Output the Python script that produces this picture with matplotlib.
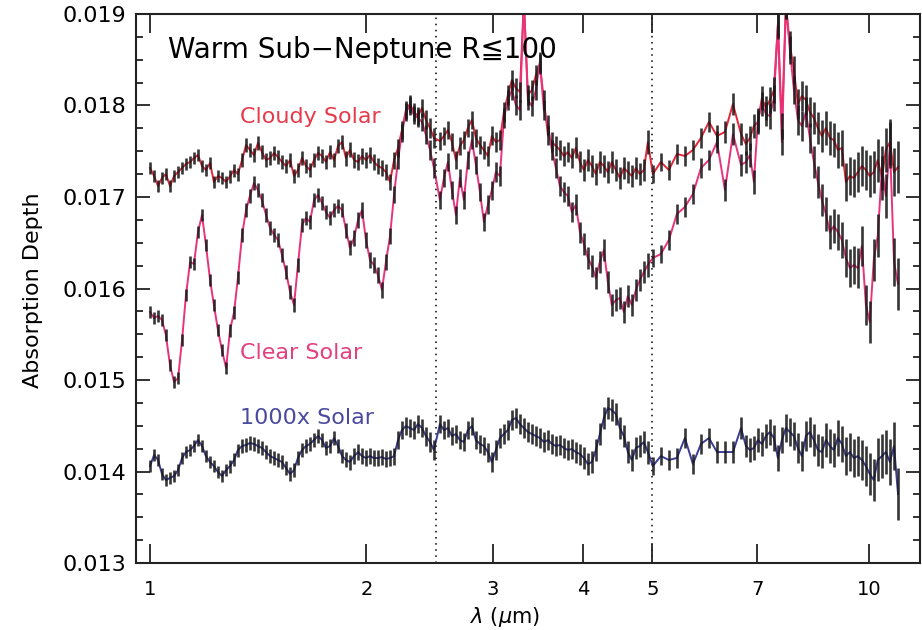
# Warm sub-Neptune transmission spectra, R<=100, three atmosphere cases
import numpy as np
import matplotlib.pyplot as plt
from matplotlib.ticker import (FixedLocator, FixedFormatter, MultipleLocator,
                               FormatStrFormatter, NullLocator)

plt.rcParams['font.family'] = ['DejaVu Sans', 'Noto Sans CJK JP']

# ------------------------------------------------ wavelength grid (micron)
wave_a = [1.000, 1.013, 1.026, 1.039, 1.052, 1.066, 1.080, 1.094, 1.108, 1.122,
          1.137, 1.151, 1.166, 1.181, 1.196, 1.212, 1.227, 1.243, 1.259, 1.276,
          1.292, 1.309, 1.325, 1.343, 1.360, 1.377, 1.395, 1.413, 1.431, 1.450,
          1.469, 1.488, 1.507, 1.526, 1.546, 1.566, 1.586, 1.606, 1.627, 1.648,
          1.669, 1.691, 1.713, 1.735, 1.757, 1.780, 1.803, 1.826, 1.850, 1.873,
          1.897, 1.922, 1.947, 1.972, 1.997, 2.023, 2.049, 2.075, 2.102, 2.129,
          2.157, 2.185, 2.213, 2.241, 2.270, 2.299, 2.329, 2.359, 2.390, 2.420,
          2.452, 2.483]
wave_b = [2.531, 2.564, 2.597, 2.630, 2.664, 2.698, 2.733, 2.768, 2.804, 2.840,
          2.877, 2.914, 2.951, 2.989, 3.028, 3.067, 3.107, 3.147, 3.187, 3.228,
          3.270, 3.312, 3.355, 3.398, 3.442, 3.486, 3.531, 3.577, 3.623, 3.670,
          3.717, 3.765, 3.813, 3.862, 3.912, 3.963, 4.014, 4.066, 4.118, 4.171,
          4.225, 4.279, 4.334, 4.390, 4.447, 4.504, 4.562, 4.621, 4.681, 4.741,
          4.802, 4.864, 4.927]
wave_c = [5.006, 5.136, 5.270, 5.407, 5.548, 5.692, 5.840, 5.992, 6.148, 6.307,
          6.471, 6.640]
wave_d = [6.745, 6.832, 6.920, 7.009, 7.099, 7.191, 7.284, 7.378, 7.473, 7.569,
          7.667, 7.766, 7.866, 7.967, 8.070, 8.174, 8.279, 8.386, 8.494, 8.604,
          8.715, 8.827, 8.941, 9.056, 9.173, 9.291, 9.411, 9.532, 9.655, 9.780,
          9.906, 10.03, 10.16, 10.29, 10.43, 10.56, 10.70, 10.84, 10.98]

# ------------------------------------------------ absorption depth (ppm)
cloudy_ppm = [
    17317, 17229, 17120, 17208, 17251, 17120, 17229, 17273, 17317, 17361,
    17383, 17426, 17459, 17339, 17295, 17372, 17164, 17229, 17208, 17164,
    17229, 17295, 17251, 17404, 17568, 17514, 17459, 17590, 17492, 17404,
    17426, 17481, 17437, 17383, 17339, 17404, 17229, 17295, 17426, 17339,
    17295, 17404, 17481, 17448, 17383, 17492, 17404, 17557, 17601, 17426,
    17514, 17404, 17383, 17448, 17404, 17459, 17383, 17339, 17317, 17273,
    17164, 17404, 17536, 17732, 17951, 18016, 17929, 17885, 17973, 17842,
    17754, 17645,
    17612, 17667, 17732, 17601, 17404, 17557, 17623, 17754, 17842, 17645,
    17568, 17514, 17448, 17667, 17601, 17623, 17929, 18115, 18279, 18191,
    18148, 19150, 18115, 18169, 18333, 18453, 18060, 17678, 17601, 17557,
    17514, 17448, 17492, 17426, 17536, 17383, 17295, 17404, 17339, 17251,
    17383, 17339, 17273, 17383, 17295, 17208, 17317, 17273, 17229, 17317,
    17251, 17295, 17601,
    17251, 17383, 17295, 17470, 17448, 17514, 17645, 17820, 17667, 17711,
    18016, 17689,
    17579, 17645, 17776, 17820, 18082, 17973, 18060, 18169, 18891, 17776,
    19100, 18661, 18388, 18016, 18104, 18060, 17929, 17863, 17754, 17667,
    17754, 17645, 17623, 17514, 17536, 17164, 17229, 17208, 17273, 17339,
    17295, 17229, 17273, 17404, 17208, 17514, 17601, 17273, 17328]

clear_ppm = [
    15743, 15678, 15700, 15656, 15492, 15164, 14978, 15022, 15437, 15929,
    16290, 16268, 16617, 16803, 16477, 16093, 15820, 15546, 15328, 15131,
    15546, 15743, 16115, 16585, 16858, 17011, 17153, 17076, 16967, 16803,
    16661, 16585, 16530, 16366, 16180, 15962, 15820, 16257, 16694, 16771,
    16727, 16967, 17022, 16934, 16836, 16771, 16858, 16902, 16858, 16639,
    16443, 16552, 16749, 16858, 16530, 16311, 16257, 16148, 15984, 16290,
    16574, 17022, 17404, 17700, 17929, 17994, 17896, 17863, 17820, 17678,
    17514, 17317,
    16967, 17208, 17383, 17076, 16803, 17208, 16967, 17404, 17623, 17350,
    17055, 16727, 16913, 17076, 17273, 17229, 17863, 18060, 18169, 18005,
    17951, 19150, 18060, 17994, 18169, 18475, 17951, 17787, 17514, 17317,
    17120, 17055, 17011, 16836, 16913, 16617, 16486, 16333, 16246, 16115,
    16290, 16421, 16071, 15820, 15874, 15896, 15743, 15918, 15820, 15984,
    16093, 16180, 16257,
    16333, 16377, 16530, 16814, 16891, 17033, 17317, 17404, 17601, 17076,
    17689, 17350,
    17383, 17459, 17164, 17842, 18016, 17907, 17885, 18082, 18869, 17601,
    19100, 18607, 18169, 17842, 17776, 17929, 17645, 17383, 17164, 16967,
    16814, 16617, 16683, 16617, 16530, 16333, 16224, 16257, 16224, 16464,
    15820, 15634, 16311, 16574, 17317, 17011, 17568, 16290, 16049]

rich_ppm = [
    14060, 14180, 14126, 13973, 13907, 13929, 13951, 14016, 14148, 14213,
    14235, 14279, 14344, 14279, 14169, 14104, 14060, 13995, 13951, 14016,
    14060, 14126, 14235, 14279, 14290, 14312, 14301, 14279, 14257, 14213,
    14169, 14148, 14126, 14104, 14038, 13973, 14016, 14148, 14235, 14279,
    14301, 14344, 14388, 14344, 14257, 14279, 14366, 14279, 14169, 14126,
    14104, 14169, 14213, 14169, 14148, 14169, 14148, 14148, 14158, 14137,
    14148, 14169, 14344, 14454, 14497, 14475, 14454, 14519, 14475, 14388,
    14323, 14235,
    14519, 14454, 14475, 14388, 14410, 14344, 14323, 14454, 14497, 14344,
    14301, 14279, 14213, 14104, 14235, 14366, 14410, 14454, 14563, 14585,
    14519, 14475, 14432, 14410, 14388, 14366, 14323, 14344, 14301, 14279,
    14290, 14257, 14235, 14246, 14213, 14191, 14148, 14082, 14104, 14235,
    14410, 14585, 14694, 14672, 14628, 14475, 14388, 14213, 14126, 14257,
    14279, 14323, 14213,
    14060, 14169, 14126, 14148, 14366, 14082, 14301, 14366, 14213, 14213,
    14213, 14475,
    14279, 14235, 14257, 14344, 14301, 14388, 14432, 14366, 14148, 14344,
    14475, 14432, 14388, 14257, 14169, 14388, 14432, 14344, 14235, 14213,
    14344, 14279, 14235, 14366, 14301, 14169, 14213, 14148, 14169, 14126,
    14060, 13973, 13907, 14126, 14169, 14213, 14104, 14279, 13754]

# 1-sigma uncertainty per bin (ppm)
err_ppm = [
    64, 64, 65, 65, 65, 66, 66, 66, 67, 67, 67, 68, 68, 68, 69, 69, 69, 70, 70, 70,
    71, 71, 71, 72, 72, 72, 73, 73, 73, 74, 74, 74, 75, 75, 75, 76, 76, 76, 77, 77,
    78, 78, 78, 79, 79, 80, 80, 81, 81, 82, 82, 83, 84, 85, 86, 87, 88, 89, 90, 91,
    92, 93, 94, 95, 96, 97, 98, 100, 102, 104, 106, 108,
    98, 98, 99, 99, 100, 100, 101, 101, 102, 102, 103, 103, 104, 104, 105, 105,
    106, 106, 107, 107, 108, 108, 109, 109, 110, 110, 111, 111, 112, 112, 113, 113,
    114, 114, 115, 115, 116, 116, 117, 117, 118, 118, 119, 119, 120, 120, 121, 121,
    122, 122, 123, 124, 126,
    100, 102, 104, 106, 108, 110, 112, 114, 116, 118, 120, 122,
    125, 127, 129, 131, 133, 135, 138, 141, 144, 147, 150, 153, 156, 159, 162, 165,
    168, 171, 175, 179, 183, 187, 191, 195, 199, 203, 207, 211, 215, 219, 223, 227,
    231, 235, 240, 245, 252, 262, 280]

wave = np.array(wave_a + wave_b + wave_c + wave_d)
err = np.array(err_ppm) / 1e6

series = [
    (cloudy_ppm, '#e8253a', 'Cloudy Solar', '#e53b4b', 0.017874),
    (clear_ppm, '#e8337d', 'Clear Solar', '#e2407f', 0.015295),
    (rich_ppm, '#3c3c99', '1000x Solar', '#4a4aa0', 0.014585),
]

# ------------------------------------------------ plotting
fig = plt.figure(figsize=(9.22, 6.30), dpi=100)
ax = fig.add_axes([0.1475, 0.1063, 0.8503, 0.8715])

for depth, color, name, tcolor, ylab in series:
    y = np.array(depth) / 1e6
    ax.plot(wave, y, color=color, lw=1.4, zorder=2)
    ax.errorbar(wave, y, yerr=err, fmt='none', ecolor='#1a1a1a',
                elinewidth=1.9, capsize=0, alpha=0.88, zorder=3)
    ax.text(1.334, ylab, name, color=tcolor, fontsize=16,
            ha='left', va='center', zorder=4)

for wl in (2.5, 5.0):
    ax.axvline(wl, color='k', lw=1.1, ls=(0, (1, 3)), zorder=1)

ax.text(1.059, 0.01861, 'Warm Sub\u2212Neptune R\u2266100', fontsize=20,
        ha='left', va='center')

# ------------------------------------------------ axes, ticks
ax.set_xscale('log')
ax.set_xlim(0.956, 11.78)
ax.set_ylim(0.013, 0.019)

ax.xaxis.set_major_locator(FixedLocator([1, 2, 3, 4, 5, 7, 10]))
ax.xaxis.set_major_formatter(FixedFormatter(['1', '2', '3', '4', '5', '7', '10']))
ax.xaxis.set_minor_locator(NullLocator())
ax.yaxis.set_major_locator(MultipleLocator(0.001))
ax.yaxis.set_minor_locator(MultipleLocator(0.00025))
ax.yaxis.set_major_formatter(FormatStrFormatter('%.3f'))

ax.tick_params(which='both', direction='in', top=True, right=True, color='#222222')
ax.tick_params(axis='x', which='major', length=14, width=1.3, pad=12, labelsize=14)
ax.tick_params(axis='y', which='major', length=10, width=1.3, pad=7, labelsize=16)
ax.tick_params(axis='y', which='minor', length=5, width=1.3)
for sp in ax.spines.values():
    sp.set_linewidth(1.5)
    sp.set_color('#222222')

fig.text(505 / 922, 1 - 617 / 630, r'$\lambda$ ($\mu$m)', fontsize=15,
         ha='center', va='center')
fig.text(33 / 922, 1 - 290 / 630, 'Absorption Depth', fontsize=16,
         rotation=90, ha='center', va='center')

fig.savefig('out.png', dpi=100)
